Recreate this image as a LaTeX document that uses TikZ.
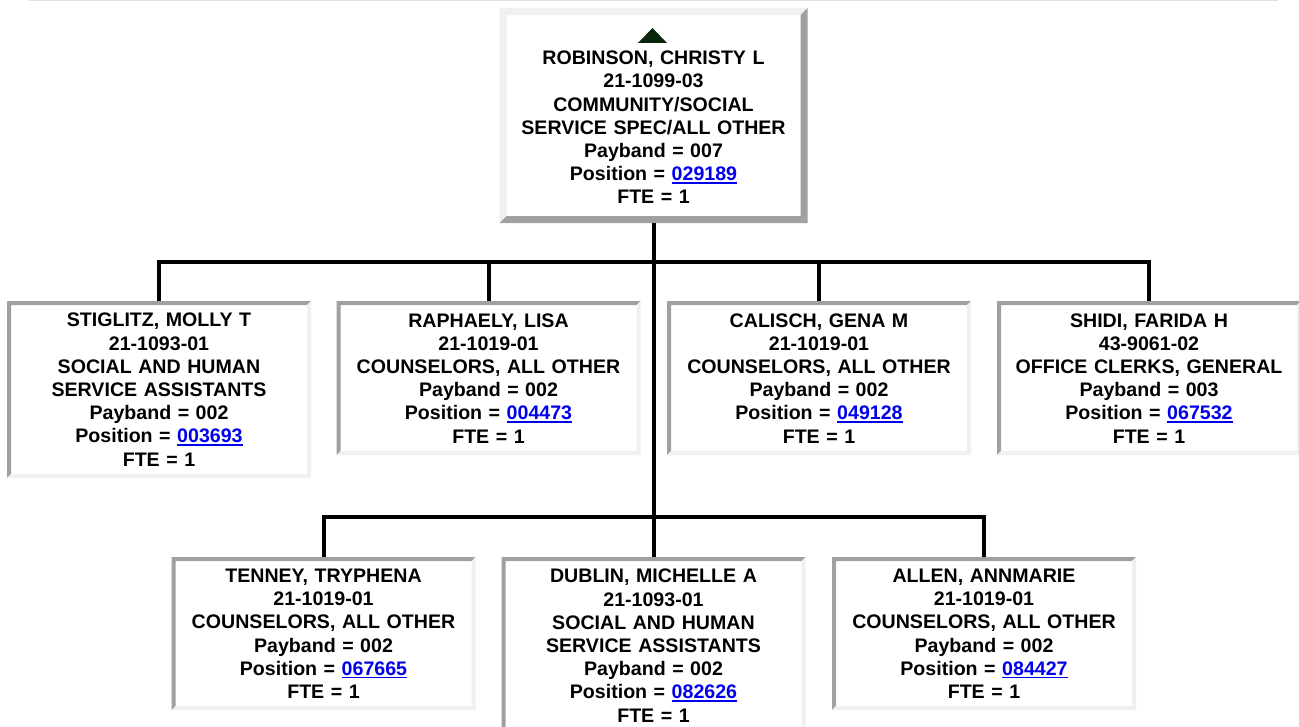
\documentclass[tikz,border=0pt]{standalone}
\usepackage{fontspec}
\setmainfont{Liberation Sans}
\definecolor{bdark}{HTML}{A0A0A0}
\definecolor{blight}{HTML}{F0F0F0}
\definecolor{linkblue}{HTML}{0000EE}
\definecolor{trigreen}{HTML}{0A260A}
\definecolor{topline}{HTML}{E0E0E0}
\newcommand\bevelframe[3]{%
  \fill[#2] (path picture bounding box.south west) -- (path picture bounding box.north west) -- (path picture bounding box.north east)
    -- ([shift={(-#1,-#1)}]path picture bounding box.north east) -- ([shift={(#1,-#1)}]path picture bounding box.north west)
    -- ([shift={(#1,#1)}]path picture bounding box.south west) -- cycle;
  \fill[#3] (path picture bounding box.south west) -- (path picture bounding box.south east) -- (path picture bounding box.north east)
    -- ([shift={(-#1,-#1)}]path picture bounding box.north east) -- ([shift={(-#1,#1)}]path picture bounding box.south east)
    -- ([shift={(#1,#1)}]path picture bounding box.south west) -- cycle;}
\newcommand\poslink[1]{\textcolor{linkblue}{\setbox0\hbox{#1}\rlap{\rule[-3pt]{\wd0}{1.7pt}}\box0}}
\tikzset{
  orgtext/.style={align=center, inner sep=0pt, text width=296pt, font=\bfseries\fontsize{19.6}{23.2}\selectfont},
  orgbox/.style={orgtext, rectangle, fill=white, minimum width=304pt, anchor=north},
  lowbox/.style={orgbox, path picture={\bevelframe{4pt}{bdark}{blight}}},
  topbox/.style={orgbox, minimum width=308pt, minimum height=215pt, path picture={\bevelframe{7pt}{blight}{bdark}}},
  conn/.style={draw=black, line width=4pt},
}
\begin{document}
\begin{tikzpicture}[x=1pt,y=-1pt]
\clip (0,0) rectangle (1299,727);
\fill[white] (0,0) rectangle (1299,727);
\draw[topline, line width=1.2pt] (29,0.8) -- (1278,0.8);

% top box
\node[topbox] (rob) at (653.5,8) {};
\node[orgtext] (robt) at (653.5,127.5) {ROBINSON, CHRISTY L\\21-1099-03\\COMMUNITY/SOCIAL\\SERVICE SPEC/ALL OTHER\\Payband = 007\\Position = \poslink{029189}\\FTE = 1};
\fill[trigreen] ([shift={(-15.5pt,-35pt)}]rob.north) -- ([shift={(13.5pt,-35pt)}]rob.north) -- ([shift={(-1pt,-20pt)}]rob.north) -- cycle;

% row 1
\node[lowbox, minimum height=177pt] (stig) at (159,301) {STIGLITZ, MOLLY T\\21-1093-01\\SOCIAL AND HUMAN\\SERVICE ASSISTANTS\\Payband = 002\\Position = \poslink{003693}\\FTE = 1};
\node[lowbox, minimum height=154pt] (rap) at (488.5,301) {RAPHAELY, LISA\\21-1019-01\\COUNSELORS, ALL OTHER\\Payband = 002\\Position = \poslink{004473}\\FTE = 1};
\node[lowbox, minimum height=154pt] (cal) at (819,301) {CALISCH, GENA M\\21-1019-01\\COUNSELORS, ALL OTHER\\Payband = 002\\Position = \poslink{049128}\\FTE = 1};
\node[lowbox, minimum height=154pt] (shi) at (1149,301) {SHIDI, FARIDA H\\43-9061-02\\OFFICE CLERKS, GENERAL\\Payband = 003\\Position = \poslink{067532}\\FTE = 1};

% row 2
\node[lowbox, minimum height=153pt] (ten) at (323.5,557) {TENNEY, TRYPHENA\\21-1019-01\\COUNSELORS, ALL OTHER\\Payband = 002\\Position = \poslink{067665}\\FTE = 1};
\node[lowbox, minimum height=177pt] (dub) at (653.5,557) {DUBLIN, MICHELLE A\\21-1093-01\\SOCIAL AND HUMAN\\SERVICE ASSISTANTS\\Payband = 002\\Position = \poslink{082626}\\FTE = 1};
\node[lowbox, minimum height=153pt] (all) at (984,557) {ALLEN, ANNMARIE\\21-1019-01\\COUNSELORS, ALL OTHER\\Payband = 002\\Position = \poslink{084427}\\FTE = 1};

% connectors
\coordinate (j1) at (653.5,262.5);
\coordinate (j2) at (653.5,517);
\draw[conn] (rob.south) -- (dub.north);
\draw[conn] (j1) -| (stig.north);
\draw[conn] (j1) -| (rap.north);
\draw[conn] (j1) -| (cal.north);
\draw[conn] (j1) -| (shi.north);
\draw[conn] (j2) -| (ten.north);
\draw[conn] (j2) -| (all.north);
\end{tikzpicture}
\end{document}
